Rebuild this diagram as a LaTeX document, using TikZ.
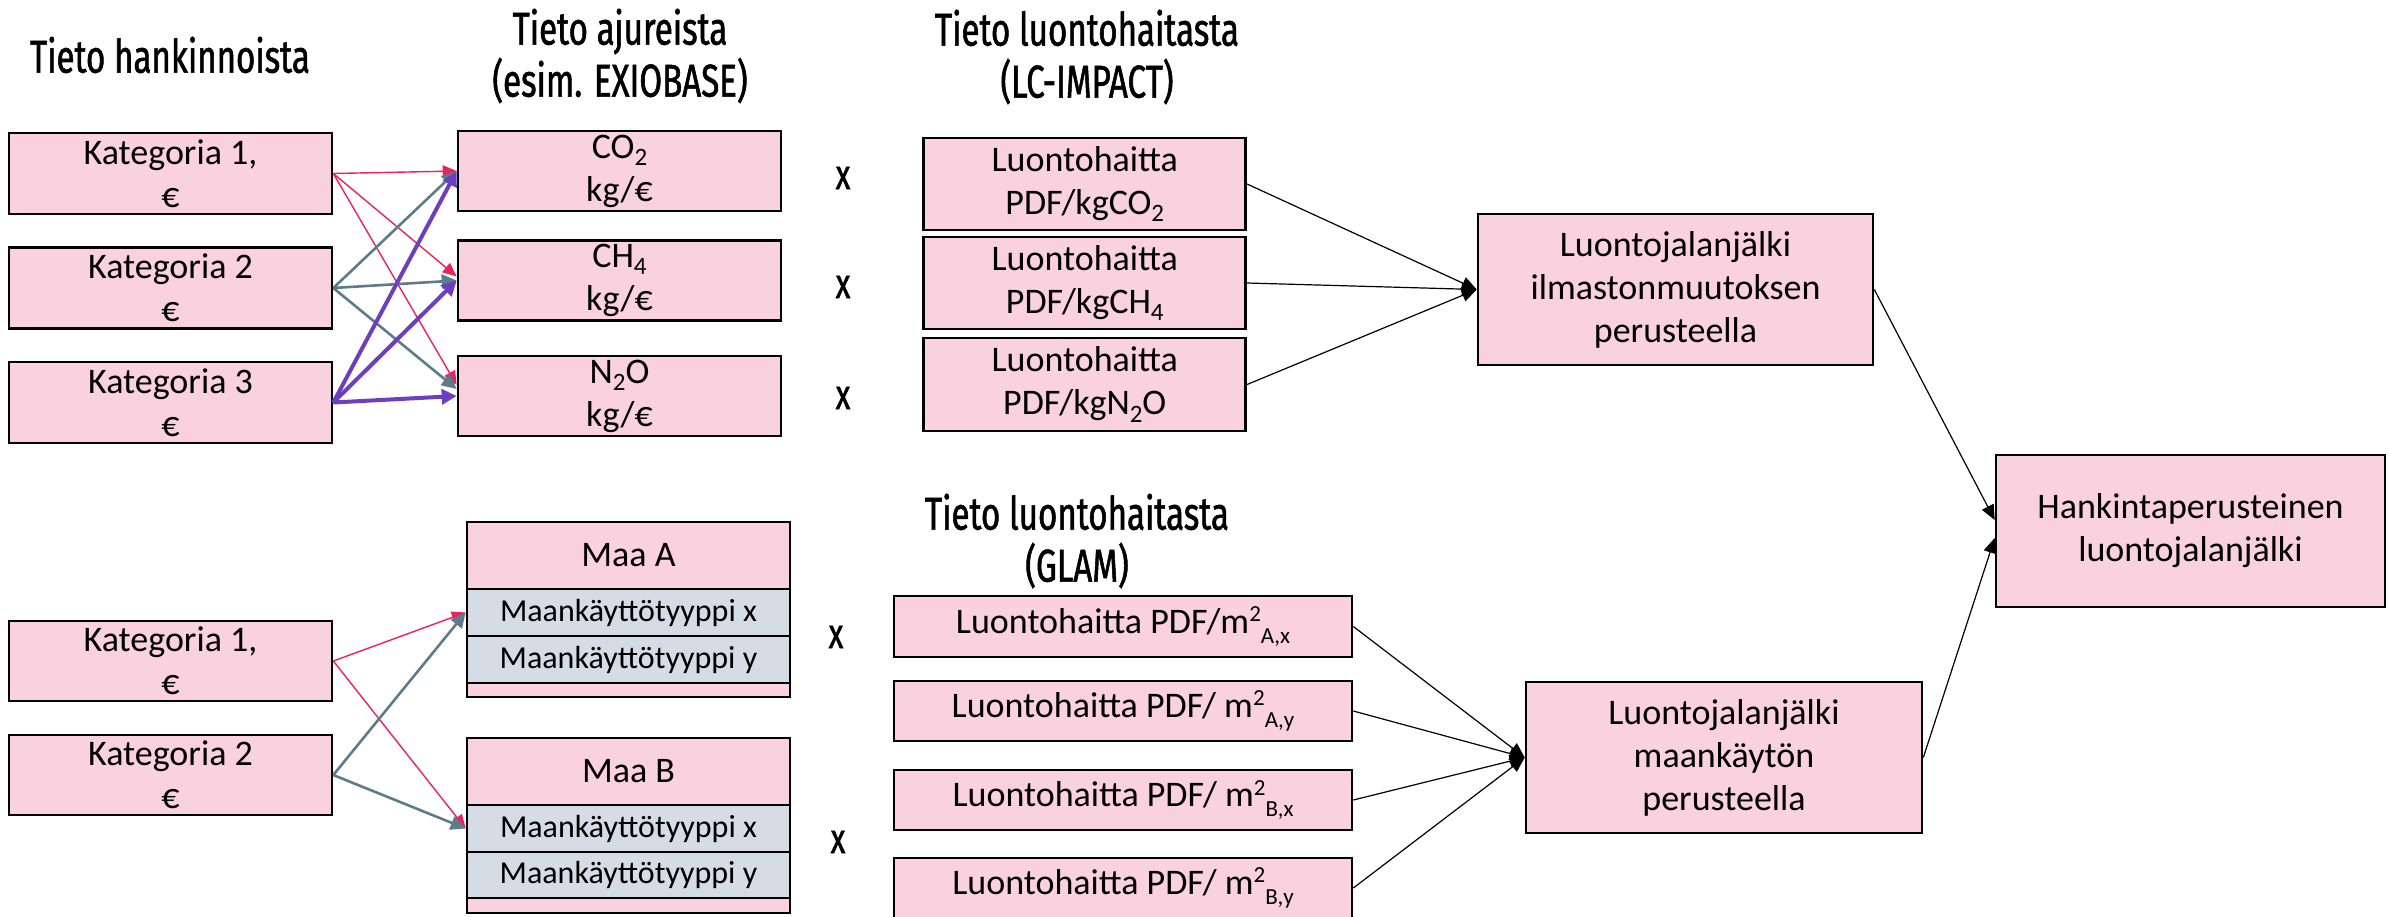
\documentclass[tikz,border=0pt]{standalone}
\usepackage{fontspec}
\setmainfont{Carlito}
\newfontfamily\headfont[FakeStretch=0.72,FakeBold=1.2]{Fira Sans}
\usetikzlibrary{arrows.meta,calc}
\definecolor{boxpink}{HTML}{FAD1DF}
\definecolor{rowgrey}{HTML}{D6DCE5}
\definecolor{lpink}{HTML}{E8235F}
\definecolor{lgrey}{HTML}{5E7B89}
\definecolor{lpurple}{HTML}{6B3FC0}
\newcommand\chsub[1]{\raisebox{-0.2em}{\fontsize{25}{25}\selectfont #1}}
\newcommand\msup[1]{\raisebox{0.32em}{\fontsize{23}{23}\selectfont #1}}
\newcommand\msub[1]{\raisebox{-0.28em}{\fontsize{23}{23}\selectfont #1}}
\begin{document}
\begin{tikzpicture}[x=1pt,y=-1pt,
  bx/.style={draw=black, fill=boxpink, line width=2.6pt, inner sep=0pt, align=center, font=\fontsize{36}{43}\selectfont},
  rowbox/.style={bx, fill=rowgrey, font=\fontsize{32}{38}\selectfont},
  head/.style={font=\headfont\fontsize{46}{52}\selectfont, align=center, inner sep=0pt},
  mult/.style={font=\headfont\fontsize{42}{48}\selectfont, inner sep=0pt},
  blk/.style={draw=black, line width=1.2pt, -{Triangle[length=15pt,width=13pt]}},
  pk/.style={draw=lpink, line width=1.4pt, -{Triangle[length=14pt,width=12pt]}},
  gy/.style={draw=lgrey, line width=2.6pt, -{Triangle[length=15pt,width=14pt]}},
  pu/.style={draw=lpurple, line width=4pt, -{Triangle[length=15pt,width=15pt]}}
]
\useasboundingbox (0,0) rectangle (2389,916);

% headings
\node[head] (h1) at (170,55) {Tieto hankinnoista};
\node[head] (h2) at (620,56) {Tieto ajureista\\(esim. EXIOBASE)};
\node[head] (h3) at (1087,57) {Tieto luontohaitasta\\(LC-IMPACT)};
\node[head] (h4) at (1077,541) {Tieto luontohaitasta\\(GLAM)};

% upper left
\node[bx, minimum width=323pt, minimum height=81pt] (k1) at (170.5,173.5) {Kategoria 1,\\€};
\node[bx, minimum width=323pt, minimum height=81pt] (k2) at (170.5,288) {Kategoria 2\\€};
\node[bx, minimum width=323pt, minimum height=81pt] (k3) at (170.5,402.5) {Kategoria 3\\€};

\node[bx, minimum width=323pt, minimum height=80pt] (co2) at (619.5,171) {CO\chsub{2}\\kg/€};
\node[bx, minimum width=323pt, minimum height=80pt] (ch4) at (619.5,280.5) {CH\chsub{4}\\kg/€};
\node[bx, minimum width=323pt, minimum height=80pt] (n2o) at (619.5,396) {N\chsub{2}O\\kg/€};

\node[mult] (x1) at (843,178) {x};
\node[mult] (x2) at (843,287) {x};
\node[mult] (x3) at (843,398) {x};

\node[bx, minimum width=322pt, minimum height=92pt] (lc1) at (1084.75,184) {Luontohaitta\\PDF/kgCO\chsub{2}};
\node[bx, minimum width=322pt, minimum height=92pt] (lc2) at (1084.75,283) {Luontohaitta\\PDF/kgCH\chsub{4}};
\node[bx, minimum width=322pt, minimum height=93pt] (lc3) at (1084.75,384.5) {Luontohaitta\\PDF/kgN\chsub{2}O};

\node[bx, minimum width=395pt, minimum height=151pt] (ilm) at (1675.5,289.5) {Luontojalanjälki\\ilmastonmuutoksen\\perusteella};

% lower left
\node[bx, minimum width=323pt, minimum height=80pt] (l1) at (170.5,661) {Kategoria 1,\\€};
\node[bx, minimum width=323pt, minimum height=80pt] (l2) at (170.5,775) {Kategoria 2\\€};

\node[bx, minimum width=323pt, minimum height=67pt] (maA) at (628.5,555.5) {Maa A};
\node[rowbox, minimum width=323pt, minimum height=47pt] (maAx) at (628.5,612.5) {Maankäyttötyyppi x};
\node[rowbox, minimum width=323pt, minimum height=47pt] (maAy) at (628.5,659.5) {Maankäyttötyyppi y};
\node[bx, minimum width=323pt, minimum height=14pt] (maAs) at (628.5,690) {};

\node[bx, minimum width=323pt, minimum height=67pt] (maB) at (628.5,771.5) {Maa B};
\node[rowbox, minimum width=323pt, minimum height=47pt] (maBx) at (628.5,828.5) {Maankäyttötyyppi x};
\node[rowbox, minimum width=323pt, minimum height=46pt] (maBy) at (628.5,875) {Maankäyttötyyppi y};
\node[bx, minimum width=323pt, minimum height=15pt] (maBs) at (628.5,905.5) {};

\node[mult] (x4) at (836,637) {x};
\node[mult] (x5) at (838,842) {x};

\node[bx, minimum width=458pt, minimum height=61pt] (g1) at (1123,626.5) {Luontohaitta PDF/m\msup{2}\msub{A,x}};
\node[bx, minimum width=458pt, minimum height=60pt] (g2) at (1123,711) {Luontohaitta PDF/ m\msup{2}\msub{A,y}};
\node[bx, minimum width=458pt, minimum height=60pt] (g3) at (1123,800) {Luontohaitta PDF/ m\msup{2}\msub{B,x}};
\node[bx, minimum width=458pt, minimum height=60pt] (g4) at (1123,888) {Luontohaitta PDF/ m\msup{2}\msub{B,y}};

\node[bx, minimum width=396pt, minimum height=151pt] (maank) at (1724,757.5) {Luontojalanjälki\\maankäytön\\perusteella};

\node[bx, minimum width=389pt, minimum height=152pt] (hank) at (2190.5,531) {Hankintaperusteinen\\luontojalanjälki};

% coloured connectors
\draw[pk] (k1.east) -- (co2.west);
\draw[pk] (k1.east) -- ($(ch4.west)+(0,-4)$);
\draw[pk] (k1.east) -- ($(n2o.west)+(0,-11)$);
\draw[gy] (k2.east) -- (co2.west);
\draw[gy] (k2.east) -- (ch4.west);
\draw[gy] (k2.east) -- ($(n2o.west)+(0,-7)$);
\draw[pu] (k3.east) -- (co2.west);
\draw[pu] (k3.east) -- (ch4.west);
\draw[pu] (k3.east) -- (n2o.west);

\draw[pk] (l1.east) -- (maAx.west);
\draw[pk] (l1.east) -- (maBx.west);
\draw[gy] (l2.east) -- (maAx.west);
\draw[gy] (l2.east) -- (maBx.west);

% black connectors
\draw[blk] (lc1.east) -- (ilm.west);
\draw[blk] (lc2.east) -- (ilm.west);
\draw[blk] (lc3.east) -- (ilm.west);
\draw[blk] (g1.east) -- (maank.west);
\draw[blk] (g2.east) -- (maank.west);
\draw[blk] (g3.east) -- (maank.west);
\draw[blk] (g4.east) -- (maank.west);
\draw[blk] (ilm.east) -- ($(hank.west)+(0,-11)$);
\draw[blk] (maank.east) -- ($(hank.west)+(0,7)$);
\end{tikzpicture}
\end{document}
